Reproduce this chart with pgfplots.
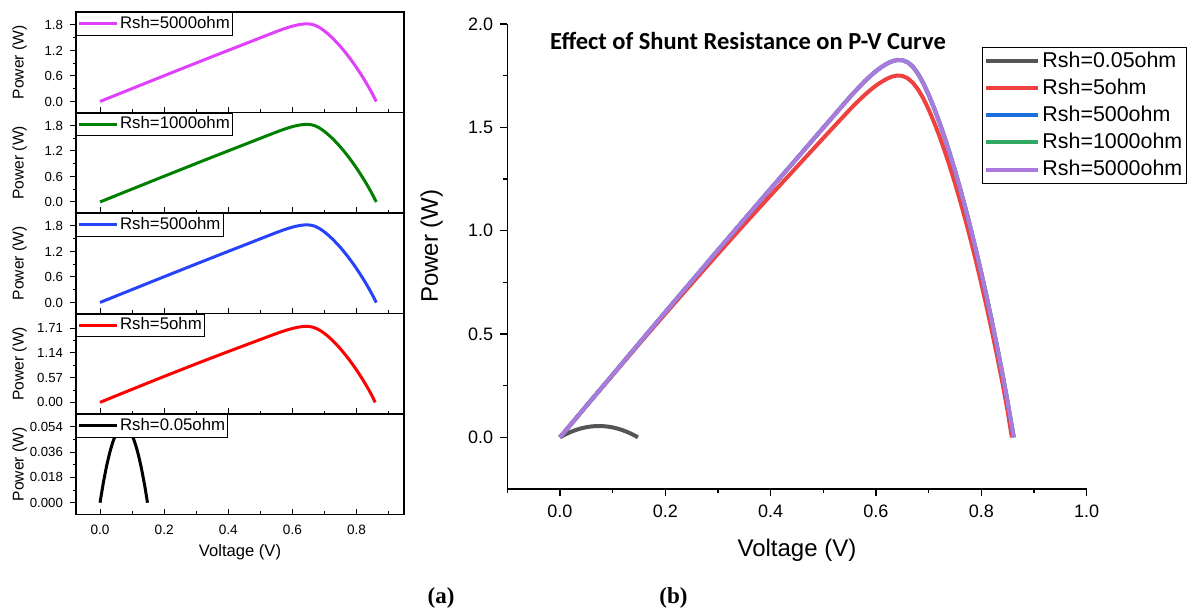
\documentclass[border=0pt]{standalone}
\usepackage{pgfplots}
\pgfplotsset{compat=1.18}
\usepackage{pgfplotstable}
\usepackage{fontspec}
\setmainfont{Liberation Sans}
\newfontfamily\titlefont{Carlito}
\newfontfamily\capfont{Liberation Serif}

\definecolor{cmag}{RGB}{224,64,251}
\definecolor{cgreen}{RGB}{0,128,0}
\definecolor{cblue}{RGB}{38,66,250}
\definecolor{cred}{RGB}{255,0,0}
\definecolor{rgray}{RGB}{85,85,85}
\definecolor{rred}{RGB}{240,65,65}
\definecolor{rblue}{RGB}{28,110,220}
\definecolor{rgreen}{RGB}{50,170,100}
\definecolor{rpurple}{RGB}{172,122,222}

% Rsh = 500 / 1000 / 5000 ohm (curves coincide)
\pgfplotstableread{
V P
0 0
0.05 0.152
0.1 0.303
0.15 0.455
0.2 0.606
0.25 0.756
0.3 0.906
0.35 1.055
0.4 1.203
0.45 1.35
0.5 1.498
0.55 1.645
0.56 1.673
0.57 1.700
0.58 1.726
0.59 1.750
0.60 1.772
0.61 1.791
0.62 1.807
0.63 1.819
0.64 1.826
0.65 1.825
0.66 1.815
0.67 1.794
0.68 1.759
0.69 1.713
0.70 1.658
0.71 1.596
0.72 1.528
0.73 1.454
0.74 1.375
0.75 1.291
0.76 1.202
0.77 1.108
0.78 1.009
0.79 0.905
0.80 0.796
0.81 0.682
0.82 0.563
0.83 0.439
0.84 0.309
0.85 0.171
0.86 0.024
0.8617 0.0
}\tabhigh

% Rsh = 5 ohm
\pgfplotstableread{
V P
0 0
0.05 0.1515
0.1 0.301
0.15 0.4505
0.2 0.598
0.25 0.7435
0.3 0.888
0.35 1.0305
0.4 1.171
0.45 1.3095
0.5 1.448
0.55 1.585
0.56 1.611
0.57 1.636
0.58 1.660
0.59 1.682
0.60 1.702
0.61 1.719
0.62 1.734
0.63 1.745
0.64 1.751
0.65 1.749
0.66 1.738
0.67 1.716
0.68 1.683
0.69 1.640
0.70 1.587
0.71 1.527
0.72 1.461
0.73 1.389
0.74 1.312
0.75 1.230
0.76 1.143
0.77 1.051
0.78 0.954
0.79 0.852
0.80 0.745
0.81 0.633
0.82 0.516
0.83 0.394
0.84 0.266
0.85 0.128
0.858 0.0
}\tabfive

% Rsh = 0.05 ohm
\pgfplotstableread{
V P
0 0
0.01 0.0138
0.02 0.0256
0.03 0.0354
0.04 0.0432
0.05 0.049
0.06 0.0528
0.07 0.0546
0.075 0.0548
0.08 0.0544
0.09 0.0522
0.10 0.048
0.11 0.0418
0.12 0.0336
0.13 0.0234
0.14 0.0112
0.148 0.0
}\tablow

\pgfplotsset{
  prec/.style={/pgf/number format/fixed, /pgf/number format/fixed zerofill, /pgf/number format/precision=#1},
  leftpanel/.style={
    scale only axis, width=164pt, height=50.25pt,
    xmin=-0.075, xmax=0.948,
    xtick={0,0.2,0.4,0.6,0.8}, minor xtick={0.1,0.3,0.5,0.7,0.9},
    xtick pos=bottom, ytick pos=left,
    xtick align=inside, ytick align=outside,
    major tick length=3pt, minor tick length=1.6pt,
    axis line style={line width=0.6pt},
    every tick/.style={black, line width=0.5pt},
    xticklabels={},
    scaled y ticks=false,
    /pgf/number format/assume math mode=true,
    tick label style={font=\fontsize{6.6}{7}\selectfont},
    ylabel={Power (W)},
    ylabel style={at={(axis description cs:-0.172,0.5)}, anchor=center, font=\fontsize{7.8}{8}\selectfont},
    legend style={at={(0,1)}, anchor=north west, draw=black, line width=0.5pt, fill=white,
      inner xsep=0.5pt, inner ysep=1.1pt, font=\fontsize{8.4}{9}\selectfont,
      cells={anchor=west}, nodes={inner sep=0.8pt},
      /tikz/every even column/.append style={column sep=0.5pt}},
    legend image code/.code={\draw[#1, line width=1.5pt] (0pt,0pt) -- (19pt,0pt);},
  },
  p18/.style={ymin=-0.26, ymax=2.105, ytick={0,0.6,1.2,1.8}, minor ytick={0.3,0.9,1.5},
    yticklabel style={prec=1}},
}

\begin{document}
\begin{tikzpicture}
\useasboundingbox (0,0) rectangle (595pt,-306pt);
\fill[white] (0,0) rectangle (595pt,-306pt);

% ---------- (a) stacked panels ----------
\begin{axis}[leftpanel, p18, at={(38pt,-6pt)}, anchor=north west]
\addplot[cmag, line width=1.5pt, line join=round] table[x=V, y=P] {\tabhigh};
\addlegendentry{Rsh=5000ohm}
\end{axis}

\begin{axis}[leftpanel, p18, at={(38pt,-56.25pt)}, anchor=north west]
\addplot[cgreen, line width=1.5pt, line join=round] table[x=V, y=P] {\tabhigh};
\addlegendentry{Rsh=1000ohm}
\end{axis}

\begin{axis}[leftpanel, p18, at={(38pt,-106.5pt)}, anchor=north west]
\addplot[cblue, line width=1.5pt, line join=round] table[x=V, y=P] {\tabhigh};
\addlegendentry{Rsh=500ohm}
\end{axis}

\begin{axis}[leftpanel, at={(38pt,-156.75pt)}, anchor=north west,
  ymin=-0.268, ymax=2.047, ytick={0,0.57,1.14,1.71}, minor ytick={0.285,0.855,1.425},
  yticklabel style={prec=2}]
\addplot[cred, line width=1.5pt, line join=round] table[x=V, y=P] {\tabfive};
\addlegendentry{Rsh=5ohm}
\end{axis}

\begin{axis}[leftpanel, at={(38pt,-207pt)}, anchor=north west,
  ymin=-0.0084, ymax=0.0631, ytick={0,0.018,0.036,0.054}, minor ytick={0.009,0.027,0.045},
  yticklabel style={prec=3},
  xticklabels={0.0,0.2,0.4,0.6,0.8},
  xticklabel style={font=\fontsize{6.8}{7}\selectfont, yshift=-1.8pt},
  xlabel={Voltage (V)},
  xlabel style={at={(axis description cs:0.5,-0.375)}, anchor=center, font=\fontsize{8.3}{9}\selectfont}]
\addplot[black, line width=1.5pt, smooth, tension=0.4] table[x=V, y=P] {\tablow};
\addlegendentry{Rsh=0.05ohm}
\end{axis}

% ---------- (b) combined ----------
\begin{axis}[at={(253.65pt,-12pt)}, anchor=north west,
  scale only axis, width=289.65pt, height=232.5pt,
  xmin=-0.1, xmax=1.0, ymin=-0.25, ymax=2.0,
  axis x line*=bottom, axis y line*=left,
  axis line style={line width=0.7pt, -},
  xtick={0,0.2,0.4,0.6,0.8,1.0}, minor xtick={-0.1,0.1,0.3,0.5,0.7,0.9},
  ytick={0,0.5,1,1.5,2}, minor ytick={0.25,0.75,1.25,1.75},
  tick align=outside, major tick length=3.5pt, minor tick length=2.2pt,
  every tick/.style={black, line width=0.6pt},
  /pgf/number format/assume math mode=true,
  xticklabel style={prec=1, yshift=-1pt},
  yticklabel style={prec=1},
  tick label style={font=\fontsize{9}{10}\selectfont},
  xlabel={Voltage (V)}, ylabel={Power (W)},
  xlabel style={at={(axis description cs:0.5,-0.131)}, anchor=center, font=\fontsize{12}{13}\selectfont},
  ylabel style={at={(axis description cs:-0.1305,0.522)}, anchor=center, font=\fontsize{12}{13}\selectfont},
  legend style={at={(axis description cs:0.8194,0.9505)}, anchor=north west, draw=black, line width=0.5pt, fill=white,
    inner xsep=1pt, inner ysep=1.2pt, font=\fontsize{10.7}{11}\selectfont, row sep=2.3pt,
    cells={anchor=west}, nodes={inner sep=1pt},
    /tikz/every even column/.append style={column sep=0.5pt}},
  legend image code/.code={\draw[#1, line width=2pt] (0pt,0pt) -- (26pt,0pt);},
  clip=false]
\addplot[rgray, line width=2pt, smooth, tension=0.4] table[x=V, y=P] {\tablow};
\addlegendentry{Rsh=0.05ohm}
\addplot[rred, line width=2pt, line join=round] table[x=V, y=P] {\tabfive};
\addlegendentry{Rsh=5ohm}
\addplot[rblue, line width=2pt, line join=round] table[x=V, y=P] {\tabhigh};
\addlegendentry{Rsh=500ohm}
\addplot[rgreen, line width=2pt, line join=round] table[x=V, y=P] {\tabhigh};
\addlegendentry{Rsh=1000ohm}
\addplot[rpurple, line width=2pt, line join=round] table[x=V, y=P] {\tabhigh};
\addlegendentry{Rsh=5000ohm}
\end{axis}

\node[anchor=center, font=\titlefont\bfseries\fontsize{12.25}{13}\selectfont] at (374pt,-20.5pt) {Effect of Shunt Resistance on P-V Curve};
\node[anchor=center, font=\capfont\bfseries\fontsize{11.5}{12}\selectfont] at (220.5pt,-299pt) {(a)};
\node[anchor=center, font=\capfont\bfseries\fontsize{11.5}{12}\selectfont] at (336.7pt,-299pt) {(b)};
\end{tikzpicture}
\end{document}
